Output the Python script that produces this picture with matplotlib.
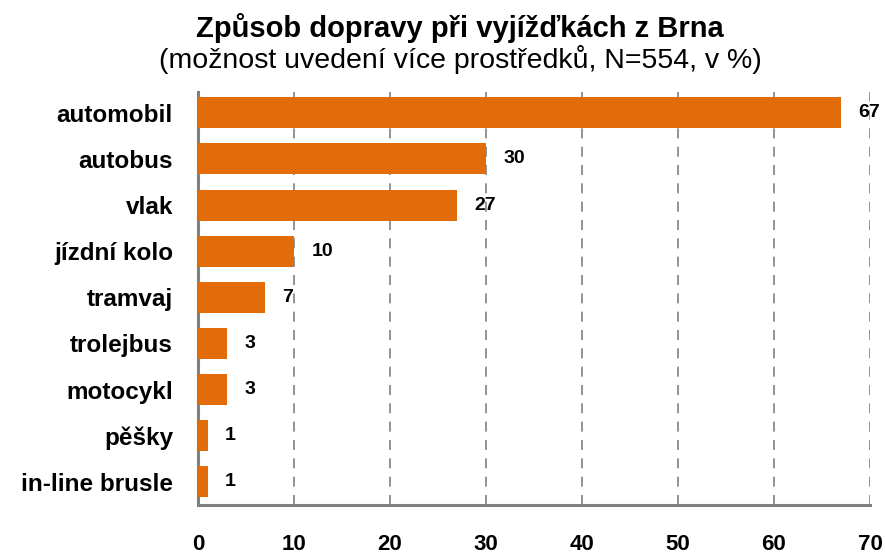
"""Horizontal bar chart: how people travel when leaving Brno (multiple answers, %)."""

import matplotlib.pyplot as plt

plt.rcParams['font.family'] = ['Liberation Sans', 'DejaVu Sans']

categories = ['automobil', 'autobus', 'vlak', 'jízdní kolo', 'tramvaj',
              'trolejbus', 'motocykl', 'pěšky', 'in-line brusle']
values = [67, 30, 27, 10, 7, 3, 3, 1, 1]
x_ticks = [0, 10, 20, 30, 40, 50, 60, 70]

bar_color = '#E36C0A'
axis_color = '#808080'

fig = plt.figure(figsize=(8.85, 5.55), dpi=100)
ax = fig.add_axes([0.2237, 0.0901, 0.7593, 0.7441])

pos = range(len(categories))
ax.barh(pos, values, height=0.67, color=bar_color, zorder=3)
for y, v in zip(pos, values):
    ax.text(v + 1.8, y, str(v), va='center', ha='left',
            fontsize=14, fontweight='bold', zorder=4)

ax.set_ylim(len(categories) - 0.5, -0.45)
ax.set_xlim(0, 70)
ax.set_yticks(list(pos))
ax.set_yticklabels(categories, fontsize=17.5, fontweight='bold')
ax.set_xticks(x_ticks)
ax.set_xticklabels([str(t) for t in x_ticks], fontsize=16, fontweight='bold')
ax.tick_params(axis='y', length=0, pad=18)
ax.tick_params(axis='x', length=0, pad=21)

# dashed vertical gridlines
ax.grid(axis='x', color=axis_color, linestyle=(0, (6, 5)), linewidth=1.2, zorder=0)
ax.grid(axis='y', visible=False)

for side in ['top', 'right']:
    ax.spines[side].set_visible(False)
for side in ['left', 'bottom']:
    ax.spines[side].set_color(axis_color)
    ax.spines[side].set_linewidth(2.2)

fig.text(0.52, 0.933, 'Způsob dopravy při vyjížďkách z Brna',
         ha='center', va='baseline', fontsize=21, fontweight='bold')
fig.text(0.52, 0.877, '(možnost uvedení více prostředků, N=554, v %)',
         ha='center', va='baseline', fontsize=20.5)

fig.savefig('out.png', dpi=100)
